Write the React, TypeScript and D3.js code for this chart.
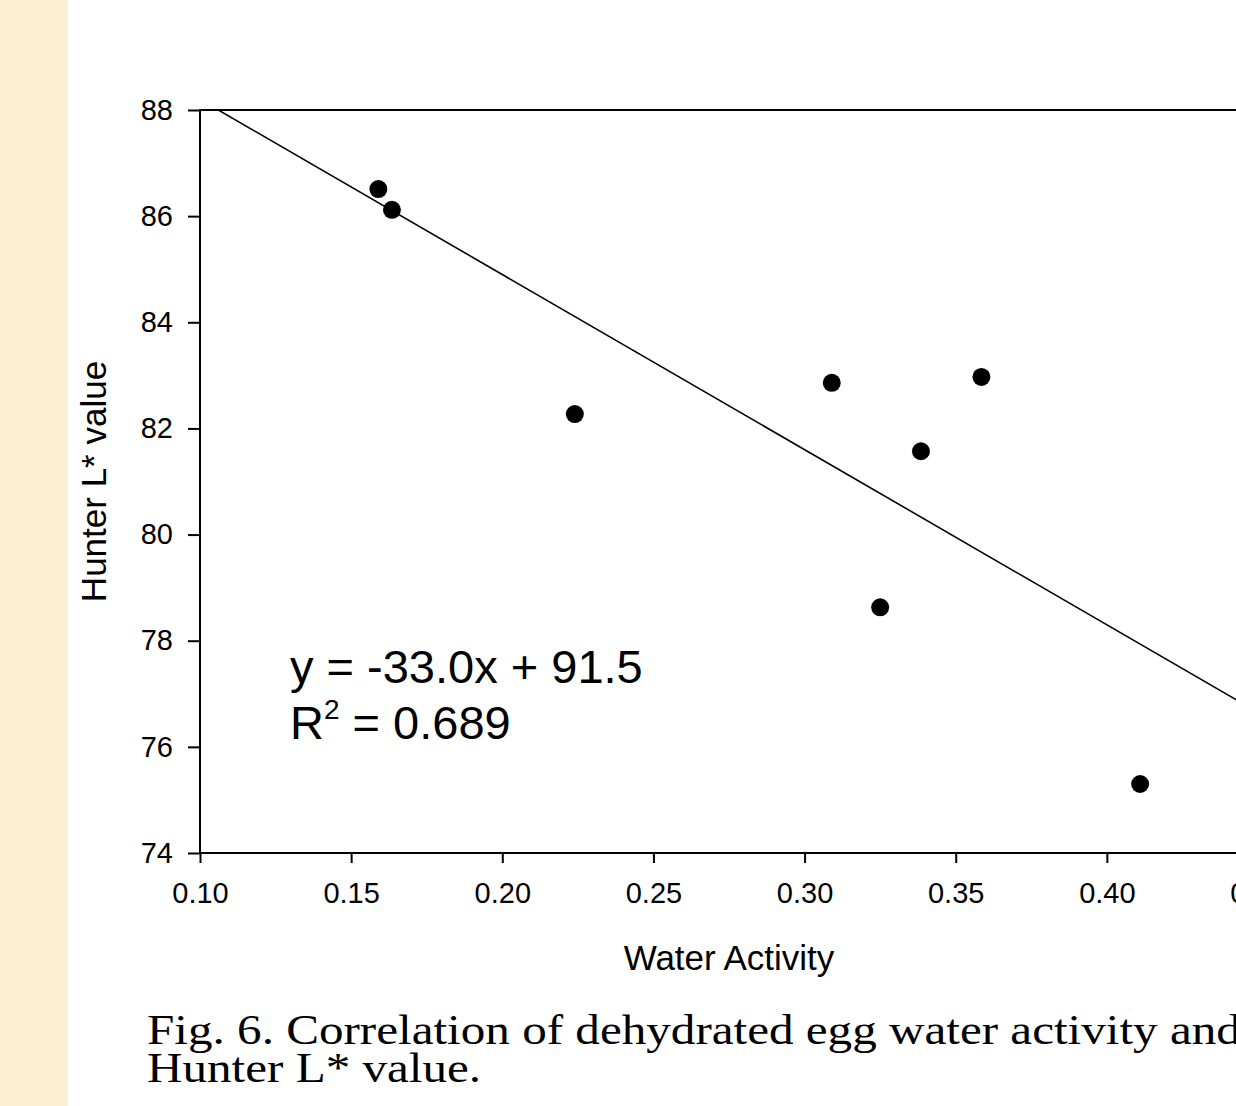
import React, { useEffect, useRef } from "react";
import * as d3 from "d3";

// water activity (x) vs Hunter L* (y)
const waterActivity: number[] = [0.159, 0.1635, 0.224, 0.309, 0.325, 0.3385, 0.3585, 0.411];
const hunterL: number[] = [86.51, 86.12, 82.27, 82.86, 78.63, 81.57, 82.97, 75.3];

const xTicks: number[] = [0.1, 0.15, 0.2, 0.25, 0.3, 0.35, 0.4, 0.45];
const yTicks: number[] = [74, 76, 78, 80, 82, 84, 86, 88];

// fitted line printed on the chart
const slope = -33.0;
const intercept = 91.5;
const rSquared = "0.689";

const captionLines: string[] = [
  "Fig. 6. Correlation of dehydrated egg water activity and",
  "Hunter L* value.",
];

const App: React.FC = () => {
  const svgRef = useRef<SVGSVGElement | null>(null);

  useEffect(() => {
    const svg = d3.select(svgRef.current);
    svg.selectAll("*").remove();

    const width = 1236;
    const height = 1106;
    const sans = "'Liberation Sans', Arial, sans-serif";

    const x = d3.scaleLinear().domain([0.1, 0.45]).range([200, 1258]);
    const y = d3.scaleLinear().domain([74, 88]).range([853, 110]);

    svg.attr("width", width).attr("height", height);

    svg.append("rect").attr("width", width).attr("height", height).attr("fill", "white");

    // beige slide strip on the left
    svg.append("rect").attr("x", 0).attr("y", 0).attr("width", 68).attr("height", height).attr("fill", "#fcefd3");

    svg.append("defs")
      .append("clipPath")
      .attr("id", "plot-clip")
      .append("rect")
      .attr("x", x(0.1))
      .attr("y", y(88))
      .attr("width", x(0.45) - x(0.1))
      .attr("height", y(74) - y(88));

    // frame
    svg.append("rect")
      .attr("x", x(0.1))
      .attr("y", y(88))
      .attr("width", x(0.45) - x(0.1))
      .attr("height", y(74) - y(88))
      .attr("fill", "none")
      .attr("stroke", "black")
      .attr("stroke-width", 2);

    // x axis
    const xAxis = d3.axisBottom(x).tickValues(xTicks).tickSize(10).tickPadding(19)
      .tickFormat((d) => d3.format(".2f")(d as number));
    const gx = svg.append("g").attr("transform", `translate(0,${y(74)})`).call(xAxis as any);
    gx.select(".domain").remove();
    gx.selectAll("line").attr("stroke", "black").attr("stroke-width", 2);
    gx.selectAll("text")
      .attr("fill", "black")
      .style("font-family", sans)
      .style("font-size", "29px");

    // y axis
    const yAxis = d3.axisLeft(y).tickValues(yTicks).tickSize(12).tickPadding(15);
    const gy = svg.append("g").attr("transform", `translate(${x(0.1)},0)`).call(yAxis as any);
    gy.select(".domain").remove();
    gy.selectAll("line").attr("stroke", "black").attr("stroke-width", 2);
    gy.selectAll("text")
      .attr("fill", "black")
      .style("font-family", sans)
      .style("font-size", "29px");

    // regression line, clipped to the plot box
    const line = d3.line<number>().x((d) => x(d)).y((d) => y(slope * d + intercept));
    svg.append("path")
      .datum([0.1, 0.45])
      .attr("d", line)
      .attr("clip-path", "url(#plot-clip)")
      .attr("fill", "none")
      .attr("stroke", "black")
      .attr("stroke-width", 1.6);

    // points
    svg.append("g")
      .selectAll("circle")
      .data(waterActivity)
      .join("circle")
      .attr("cx", (d) => x(d))
      .attr("cy", (_, i) => y(hunterL[i]))
      .attr("r", 9)
      .attr("fill", "black");

    // equation
    const eq = svg.append("g").style("font-family", sans).attr("fill", "black");
    eq.append("text")
      .attr("x", 290)
      .attr("y", 683)
      .style("font-size", "47px")
      .text(`y = ${slope.toFixed(1)}x + ${intercept.toFixed(1)}`);
    const r2 = eq.append("text").attr("x", 290).attr("y", 739).style("font-size", "47px");
    r2.append("tspan").text("R");
    r2.append("tspan").attr("dy", -20).style("font-size", "28px").text("2");
    r2.append("tspan").attr("dy", 20).text(` = ${rSquared}`);

    // axis titles
    svg.append("text")
      .attr("x", 729)
      .attr("y", 970)
      .attr("text-anchor", "middle")
      .style("font-family", sans)
      .style("font-size", "35px")
      .text("Water Activity");

    svg.append("text")
      .attr("transform", `translate(106,${(y(74) + y(88)) / 2}) rotate(-90)`)
      .attr("text-anchor", "middle")
      .style("font-family", sans)
      .style("font-size", "35px")
      .text("Hunter L* value");

    // caption (serif, a bit wider than Times like the original Palatino)
    svg.append("g")
      .attr("transform", "translate(147,0) scale(1.17,1)")
      .selectAll("text")
      .data(captionLines)
      .join("text")
      .attr("x", 0)
      .attr("y", (_, i) => 1044 + i * 38)
      .style("font-family", "'Liberation Serif', 'Times New Roman', serif")
      .style("font-size", "42px")
      .attr("fill", "black")
      .text((d) => d);
  }, []);

  return (
    <div style={{ position: "absolute", left: 0, top: 0, width: 1236, height: 1106, overflow: "hidden" }}>
      <svg ref={svgRef} style={{ display: "block" }} />
    </div>
  );
};

export default App;
